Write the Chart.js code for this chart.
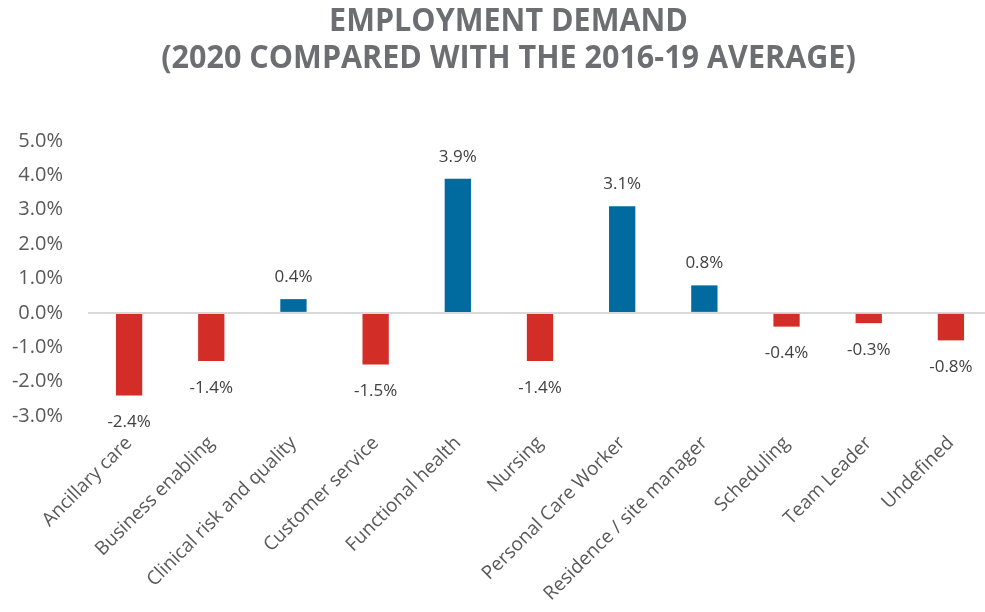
<!DOCTYPE html>
<html>
<head>
<meta charset="utf-8">
<script src="https://cdn.jsdelivr.net/npm/chart.js@4/dist/chart.umd.min.js"></script>
<style>
  html, body { margin: 0; padding: 0; background: #ffffff; overflow: hidden; }
  #wrap { width: 985px; height: 612px; overflow: hidden; }
  #c { display: block; }
</style>
</head>
<body>
<div id="wrap"><canvas id="c" width="992" height="612"></canvas></div>
<script>
// Employment demand by role family, 2020 vs 2016-19 average (percentage points)
const categories = [
  'Ancillary care', 'Business enabling', 'Clinical risk and quality',
  'Customer service', 'Functional health', 'Nursing', 'Personal Care Worker',
  'Residence / site manager', 'Scheduling', 'Team Leader', 'Undefined'
];
const changePct = [-2.4, -1.4, 0.4, -1.5, 3.9, -1.4, 3.1, 0.8, -0.4, -0.3, -0.8];
const titleLines = ['EMPLOYMENT DEMAND', '(2020 COMPARED WITH THE 2016-19 AVERAGE)'];
const yTicks = [-3, -2, -1, 0, 1, 2, 3, 4, 5];

const RED = '#d22d26';
const BLUE = '#016a9f';

// Two-line heading in a slightly condensed bold face
const heading = {
  id: 'heading',
  afterDraw(chart) {
    const ctx = chart.ctx;
    const cx = 985 / 2 + 16;
    ctx.save();
    ctx.fillStyle = '#6d6e71';
    ctx.font = 'bold 33px "Open Sans"';
    ctx.textAlign = 'center';
    ctx.textBaseline = 'middle';
    const lineYs = [22, 59];
    titleLines.forEach((line, i) => {
      ctx.save();
      ctx.translate(cx, lineYs[i]);
      ctx.scale(0.925, 1);
      ctx.fillText(line, 0, 0);
      ctx.restore();
    });
    ctx.restore();
  }
};

// Value labels above positive bars and below negative ones
const valueLabels = {
  id: 'valueLabels',
  afterDatasetsDraw(chart) {
    const ctx = chart.ctx;
    const meta = chart.getDatasetMeta(0);
    ctx.save();
    ctx.font = '17px "Open Sans"';
    ctx.fillStyle = '#404040';
    ctx.textAlign = 'center';
    ctx.textBaseline = 'middle';
    meta.data.forEach((bar, i) => {
      const v = changePct[i];
      const y = v >= 0 ? bar.y - 22 : bar.y + 27;
      ctx.fillText(v.toFixed(1) + '%', bar.x, y);
    });
    ctx.restore();
  }
};

new Chart(document.getElementById('c'), {
  type: 'bar',
  data: {
    labels: categories,
    datasets: [{
      data: changePct,
      backgroundColor: changePct.map(v => v >= 0 ? BLUE : RED),
      barPercentage: 0.32,
      categoryPercentage: 1.0
    }]
  },
  options: {
    responsive: false,
    animation: false,
    devicePixelRatio: 1,
    layout: { padding: { left: 0, right: 0, top: 141, bottom: 0 } },
    plugins: {
      legend: { display: false },
      tooltip: { enabled: false },
      title: { display: false }
    },
    scales: {
      x: {
        grid: { display: false, drawTicks: false },
        border: { display: false },
        ticks: {
          autoSkip: false,
          minRotation: 45,
          maxRotation: 45,
          padding: 16,
          color: '#595959',
          font: { family: '"Open Sans"', size: 19 }
        },
        afterFit(scale) { scale.height = 196; }
      },
      y: {
        min: -3,
        max: 5,
        afterBuildTicks(scale) { scale.ticks = yTicks.map(v => ({ value: v })); },
        grid: {
          drawTicks: false,
          lineWidth: ctx => (ctx.tick && ctx.tick.value === 0 ? 2 : 0),
          color: '#d9d9d9'
        },
        border: { display: false },
        ticks: {
          padding: 25,
          color: '#595959',
          font: { family: '"Open Sans"', size: 20 },
          callback: v => Number(v).toFixed(1) + '%'
        },
        afterFit(scale) { scale.width = 88; }
      }
    }
  },
  plugins: [valueLabels, heading]
});
</script>
</body>
</html>
